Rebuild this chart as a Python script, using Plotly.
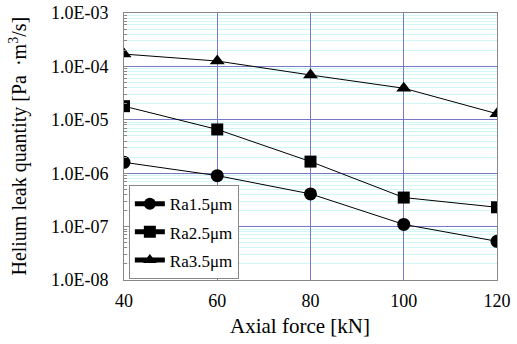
import plotly.graph_objects as go

axial_force = [40, 60, 80, 100, 120]
ra15 = [1.6e-6, 9.0e-7, 4.1e-7, 1.1e-7, 5.3e-8]
ra25 = [1.8e-5, 6.6e-6, 1.65e-6, 3.5e-7, 2.3e-7]
ra35 = [1.7e-4, 1.26e-4, 6.9e-5, 3.9e-5, 1.3e-5]
series_names = ["Ra1.5μm", "Ra2.5μm", "Ra3.5μm"]
y_tick_vals = [1e-8, 1e-7, 1e-6, 1e-5, 1e-4, 1e-3]
y_tick_text = ["1.0E-08", "1.0E-07", "1.0E-06", "1.0E-05", "1.0E-04", "1.0E-03"]
x_tick_vals = [40, 60, 80, 100, 120]
x_title = "Axial force [kN]"
y_title = "Helium leak quantity [Pa \u2009·m<sup>3</sup>/s]"

FF = "Liberation Serif"
fig = go.Figure()
for i, (name, ys, sym, size) in enumerate(zip(series_names, [ra15, ra25, ra35],
                               ["circle", "square", "triangle-up"], [13, 12, 13])):
    fig.add_trace(go.Scatter(
        x=axial_force, y=ys, name=name, mode="lines+markers",
        legendgroup=f"g{i}",
        line=dict(color="black", width=1),
        marker=dict(symbol=sym, size=size, color="black"),
    ))

fig.update_layout(
    width=517, height=344,
    margin=dict(l=124, r=20, t=13, b=64),
    paper_bgcolor="white", plot_bgcolor="white",
    font=dict(family=FF, size=18, color="black"),
    showlegend=True,
    legend=dict(x=0.013, y=0.355, xanchor="left", yanchor="top",
                bgcolor="white", bordercolor="#888888", borderwidth=1,
                font=dict(family=FF, size=17, color="black"),
                itemsizing="constant", tracegroupgap=3, itemwidth=30),
    annotations=[
        dict(text=x_title, xref="paper", yref="paper", x=0.472, y=-0.172,
             xanchor="center", yanchor="middle", showarrow=False,
             font=dict(family=FF, size=21, color="black")),
        dict(text=y_title, xref="paper", yref="paper", x=-0.284, y=0.5,
             xanchor="center", yanchor="middle", showarrow=False, textangle=-90,
             font=dict(family=FF, size=20, color="black")),
    ],
)
fig.update_xaxes(
    range=[40, 120], tickvals=x_tick_vals,
    showgrid=True, gridcolor="#7878c8", gridwidth=1,
    showline=True, linecolor="#888888", mirror=True, linewidth=1,
    ticks="", zeroline=False, automargin=False, ticklabeloverflow="allow",
    ticklabelstandoff=4,
    tickfont=dict(family=FF, size=18),
)
fig.update_yaxes(
    type="log", range=[-8, -3], tickvals=y_tick_vals, ticktext=y_tick_text,
    showgrid=True, gridcolor="#7878c8", gridwidth=1,
    showline=True, linecolor="#888888", mirror=True, linewidth=1,
    ticks="inside", ticklen=5, tickcolor="#888888", automargin=False,
    ticklabelstandoff=11,
    minor=dict(dtick="D1", showgrid=True, gridcolor="#cff7f8", ticks="inside",
               ticklen=3, tickcolor="#888888"),
    tickfont=dict(family=FF, size=18),
)
fig.write_html("out.html", config={"displayModeBar": False},
               post_script="document.body.style.margin='0';")
